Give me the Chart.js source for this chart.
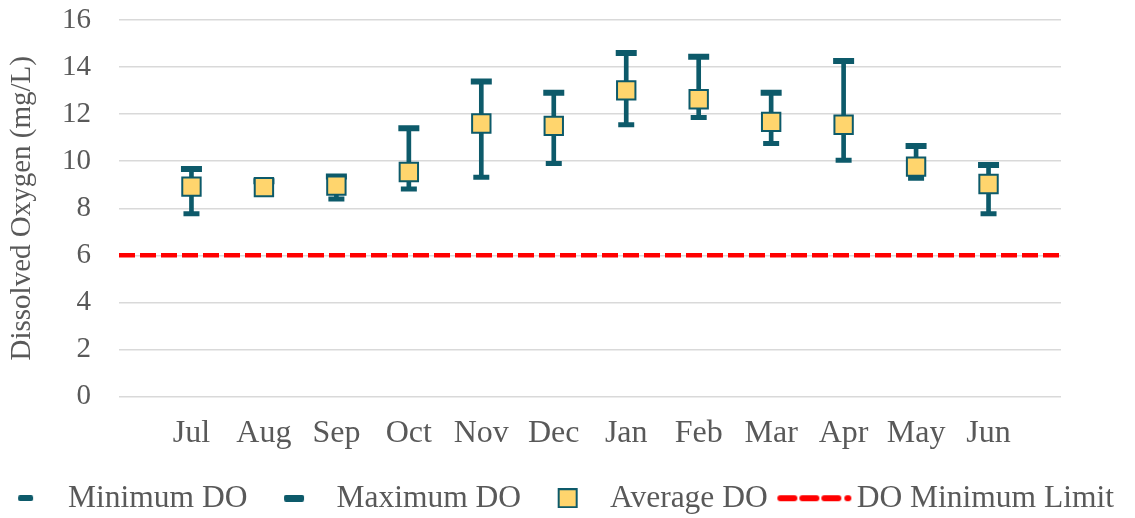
<!DOCTYPE html>
<html>
<head>
<meta charset="utf-8">
<script src="https://cdn.jsdelivr.net/npm/chart.js@4.4.1/dist/chart.umd.min.js"></script>
<style>
  body { margin: 0; background: #fff; }
  #wrap { width: 1135px; height: 518px; }
</style>
</head>
<body>
<div id="wrap"><canvas id="doChart" width="1135" height="518"></canvas></div>
<script>
// Monthly dissolved oxygen
const months = ['Jul', 'Aug', 'Sep', 'Oct', 'Nov', 'Dec', 'Jan', 'Feb', 'Mar', 'Apr', 'May', 'Jun'];
const minDO = [7.77, 8.75, 8.39, 8.82, 9.32, 9.90, 11.55, 11.86, 10.75, 10.04, 9.27, 7.77];
const maxDO = [9.67, 9.15, 9.35, 11.40, 13.39, 12.91, 14.60, 14.44, 12.91, 14.26, 10.65, 9.84];
const avgDO = [8.92, 8.90, 8.96, 9.54, 11.60, 11.50, 13.01, 12.63, 11.67, 11.55, 9.77, 9.03];
const doLimit = 6;
const yTicks = [0, 2, 4, 6, 8, 10, 12, 14, 16];

const teal = '#0D5A6A';
const gold = '#FFD56D';
const red = '#FF0000';
const textGray = '#595959';
const serif = "'Liberation Serif', 'Times New Roman', serif";

// legend markers are little canvases, drawn a bit right of the box centre
const MARK_SHIFT = 10;
function marker(w, h, draw) {
    const c = document.createElement('canvas');
    c.width = w + 2 * MARK_SHIFT + 2;
    c.height = h;
    const ctx = c.getContext('2d');
    ctx.translate(c.width / 2 + MARK_SHIFT - w / 2, 0);
    draw(ctx);
    return c;
}

function roundBar(ctx, w, h) {
    ctx.fillStyle = teal;
    ctx.beginPath();
    ctx.roundRect(0, 0, w, h, 2);
    ctx.fill();
}

const minMarker = marker(15, 6, ctx => roundBar(ctx, 15, 6));
const maxMarker = marker(20, 7, ctx => roundBar(ctx, 20, 7));
const avgMarker = marker(20, 20, ctx => {
    ctx.fillStyle = gold;
    ctx.fillRect(1, 1, 18, 18);
    ctx.strokeStyle = teal;
    ctx.lineWidth = 2;
    ctx.strokeRect(1, 1, 18, 18);
});
const limitMarker = marker(74, 8, ctx => {
    ctx.strokeStyle = red;
    ctx.lineWidth = 6;
    ctx.lineCap = 'round';
    ctx.beginPath();
    [[3, 17], [25, 39], [47, 61], [70, 71]].forEach(([a, b]) => {
        ctx.moveTo(a, 4);
        ctx.lineTo(b, 4);
    });
    ctx.stroke();
});

const pts = arr => arr.map((v, i) => ({ x: i + 1, y: v }));

// the legend sits a little lower and further left than chart.js puts it
const legendNudge = {
    id: 'legendNudge',
    afterLayout(chart) {
        const lg = chart.legend;
        lg.left -= 21;
        lg.right -= 21;
        lg.top += 6;
        lg.bottom += 6;
    }
};

buildDOChart();

function buildDOChart() {
    const ctx = document.getElementById('doChart');
    // @ts-ignore
    new Chart(ctx, {
        type: 'scatter',
        plugins: [legendNudge],
        data: {
            datasets: [
                {
                    label: 'Average DO',
                    data: pts(avgDO),
                    pointStyle: 'rect',
                    radius: 13,
                    backgroundColor: gold,
                    borderColor: teal,
                    borderWidth: 2,
                    order: 0
                },
                {
                    label: 'Maximum DO',
                    data: pts(maxDO),
                    pointStyle: 'line',
                    radius: 10.5,
                    borderColor: teal,
                    borderWidth: 6,
                    order: 1
                },
                {
                    label: 'Minimum DO',
                    data: pts(minDO),
                    pointStyle: 'line',
                    radius: 8,
                    borderColor: teal,
                    borderWidth: 5,
                    order: 2
                },
                {
                    label: 'range',
                    type: 'bar',
                    data: months.map((m, i) => ({ x: i + 1, y: [minDO[i], maxDO[i]] })),
                    backgroundColor: teal,
                    barThickness: 4,
                    order: 3
                },
                {
                    label: 'DO Minimum Limit',
                    type: 'line',
                    data: [{ x: 0, y: doLimit }, { x: months.length + 1, y: doLimit }],
                    borderColor: red,
                    borderWidth: 4.5,
                    borderDash: [16, 5],
                    pointRadius: 0,
                    order: 4
                }
            ]
        },
        options: {
            responsive: false,
            animation: false,
            layout: {
                padding: { left: 0, right: 0, top: 20, bottom: 0 }
            },
            scales: {
                x: {
                    type: 'linear',
                    min: 0,
                    max: months.length + 1,
                    offset: false,
                    grid: { display: false, offset: false },
                    border: { display: false },
                    ticks: {
                        stepSize: 1,
                        autoSkip: false,
                        maxRotation: 0,
                        padding: 10,
                        color: textGray,
                        font: { family: serif, size: 32 },
                        callback: v => months[v - 1] || ''
                    },
                    afterFit: scale => { scale.height = 80; }
                },
                y: {
                    min: 0,
                    max: 16,
                    afterBuildTicks: scale => { scale.ticks = yTicks.map(v => ({ value: v })); },
                    grid: { color: '#D9D9D9', lineWidth: 1.5, drawTicks: false },
                    border: { display: false },
                    ticks: {
                        padding: 28,
                        color: textGray,
                        font: { family: serif, size: 29 }
                    },
                    title: {
                        display: true,
                        text: 'Dissolved Oxygen (mg/L)',
                        color: textGray,
                        font: { family: serif, size: 29 },
                        padding: { top: 5, bottom: 0 }
                    },
                    afterFit: scale => {
                        scale.width = 119;
                        scale.paddingTop = 0;
                    }
                },
                // empty right-hand axis, only there to keep the right margin
                yRight: {
                    position: 'right',
                    min: 0,
                    max: 16,
                    grid: { display: false },
                    border: { display: false },
                    ticks: { display: false },
                    afterFit: scale => { scale.width = 74; }
                }
            },
            plugins: {
                tooltip: { enabled: false },
                legend: {
                    position: 'bottom',
                    align: 'start',
                    labels: {
                        usePointStyle: true,
                        pointStyleWidth: 73.25,
                        padding: 0,
                        color: textGray,
                        font: { family: serif, size: 31.5 },
                        generateLabels: () => [
                            { text: 'Minimum DO', pointStyle: minMarker },
                            { text: 'Maximum DO', pointStyle: maxMarker },
                            { text: 'Average DO', pointStyle: avgMarker },
                            { text: 'DO Minimum Limit', pointStyle: limitMarker }
                        ].map((item, i) => ({
                            ...item,
                            fontColor: textGray,
                            lineWidth: 0,
                            hidden: false,
                            datasetIndex: i
                        }))
                    }
                }
            }
        }
    });
}
</script>
</body>
</html>
